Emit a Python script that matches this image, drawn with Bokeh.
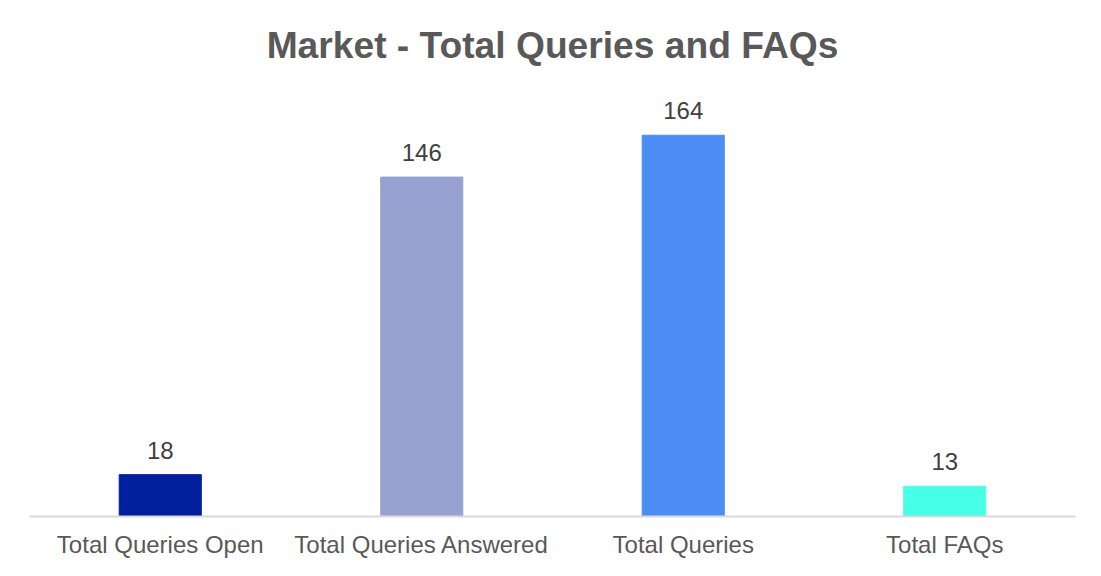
from bokeh.plotting import figure
from bokeh.models import ColumnDataSource, LabelSet, Label
from bokeh.core.properties import value
from bokeh.embed import file_html
from bokeh.resources import INLINE

categories = ["Total Queries Open", "Total Queries Answered", "Total Queries", "Total FAQs"]
values = [18, 146, 164, 13]
colors = ["#0020A0", "#98A2D0", "#4C8CF5", "#48FFE8"]
labels = [str(v) for v in values]
title_text = "Market - Total Queries and FAQs"

src = ColumnDataSource(dict(cat=categories, val=values, col=colors, lab=labels))

px_per_unit = 382 / 164.0
frame_top = 8
frame_bottom = 517
frame_h = frame_bottom - frame_top
y_end = frame_h / px_per_unit

p = figure(x_range=categories, y_range=(0, y_end), width=1085, height=560,
           output_backend="svg", toolbar_location=None,
           min_border_left=29, min_border_right=10, min_border_top=frame_top,
           min_border_bottom=560 - frame_bottom)
p.vbar(x="cat", top="val", width=0.314, color="col", source=src)

p.add_layout(LabelSet(x="cat", y="val", text="lab", source=src, y_offset=16,
                      text_align="center", text_baseline="alphabetic",
                      text_font=value("Liberation Sans"), text_font_size="24px",
                      text_color="#404040"))

p.add_layout(Label(x=2.0, y=(frame_bottom - 45) / px_per_unit, text=title_text,
                   text_align="center", text_baseline="alphabetic",
                   text_font="Liberation Sans", text_font_style="bold",
                   text_font_size="37.2px", text_color="#595959"))

p.yaxis.visible = False
p.xgrid.grid_line_color = None
p.ygrid.grid_line_color = None
p.outline_line_color = None
p.xaxis.axis_line_color = "#d9d9d9"
p.xaxis.axis_line_width = 2
p.xaxis.major_tick_line_color = None
p.xaxis.minor_tick_line_color = None
p.xaxis.major_tick_out = 0
p.xaxis.major_tick_in = 0
p.xaxis.major_label_standoff = 14
p.xaxis.major_label_text_font = "Liberation Sans"
p.xaxis.major_label_text_font_size = "24px"
p.xaxis.major_label_text_color = "#595959"
p.xaxis.major_label_text_font_style = "normal"

open("out.html", "w").write(file_html(p, INLINE))
